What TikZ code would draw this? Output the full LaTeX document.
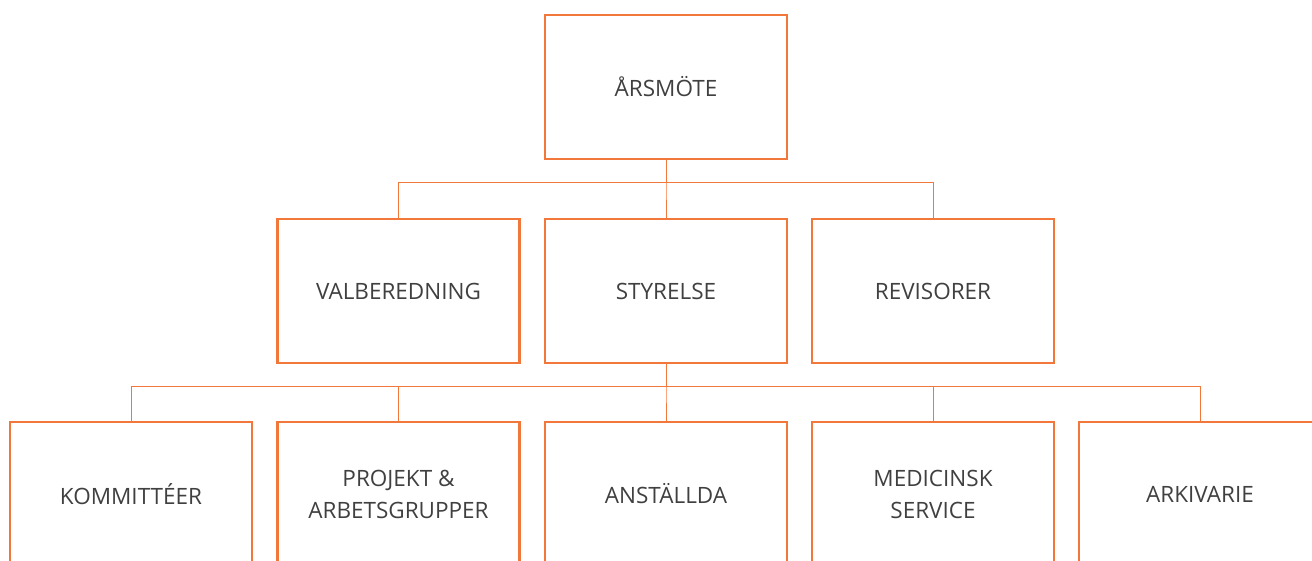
\documentclass[tikz,border=0pt]{standalone}
\usepackage{fontspec}
\setmainfont{Open Sans}
\definecolor{org}{HTML}{F2773A}
\definecolor{txt}{HTML}{404040}
\begin{document}
\begin{tikzpicture}[x=1pt,y=-1pt,
  box/.style={draw=org,line width=2.5pt,minimum width=242pt,minimum height=144pt,inner sep=0pt,
    font=\fontsize{22.5}{32}\selectfont,text=txt,align=center},
  conn/.style={draw=org,line width=1pt}]
\clip (0,0) rectangle (1312,560);
\useasboundingbox (0,0) rectangle (1312,560);
\node[box] (aa) at (666,87) {ÅRSMÖTE};
\node[box] (val) at (398.5,291) {VALBEREDNING};
\node[box] (sty) at (666,291) {STYRELSE};
\node[box] (rev) at (933,291) {REVISORER};
\node[box] (kom) at (131,494) {KOMMITTÉER};
\node[box] (pro) at (398.5,494) {PROJEKT \&\\ARBETSGRUPPER};
\node[box] (ans) at (666,494) {ANSTÄLLDA};
\node[box] (med) at (933,494) {MEDICINSK\\SERVICE};
\node[box] (ark) at (1200,494) {ARKIVARIE};
\foreach \c in {val,sty,rev} \draw[conn] (aa.south) -- ++(0,22) -| (\c.north);
\foreach \c in {kom,pro,ans,med,ark} \draw[conn] (sty.south) -- ++(0,22) -| (\c.north);
\end{tikzpicture}
\end{document}
